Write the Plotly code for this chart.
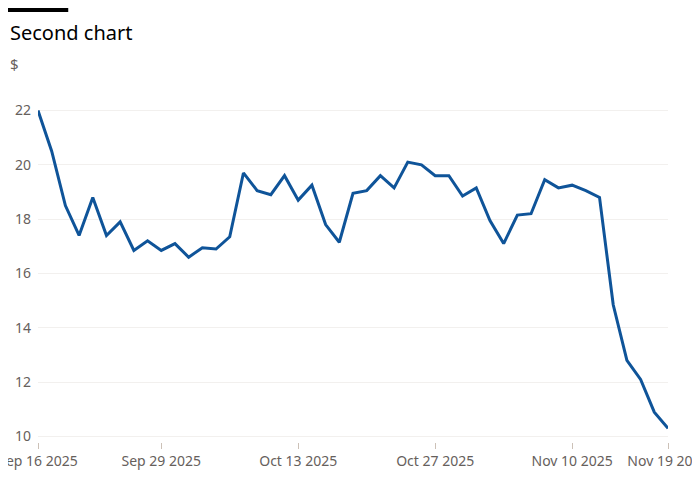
import plotly.graph_objects as go
import pandas as pd

dates = pd.bdate_range("2025-09-16", "2025-11-19").strftime("%Y-%m-%d").tolist()
prices = [22.0, 20.5, 18.5, 17.4, 18.8, 17.4, 17.9, 16.85, 17.2, 16.85,
          17.1, 16.6, 16.95, 16.9, 17.35, 19.7, 19.05, 18.9, 19.6, 18.7,
          19.25, 17.8, 17.15, 18.95, 19.05, 19.6, 19.15, 20.1, 20.0, 19.6,
          19.6, 18.85, 19.15, 17.95, 17.1, 18.15, 18.2, 19.45, 19.15, 19.25,
          19.05, 18.8, 14.85, 12.8, 12.1, 10.9, 10.3]
tick_dates = ["2025-09-16", "2025-09-29", "2025-10-13", "2025-10-27", "2025-11-10", "2025-11-19"]
tick_labels = ["Sep 16 2025", "Sep 29 2025", "Oct 13 2025", "Oct 27 2025", "Nov 10 2025", "Nov 19 2025"]
y_ticks = [10, 12, 14, 16, 18, 20, 22]

fig = go.Figure(go.Scatter(
    x=dates, y=prices, mode="lines",
    line=dict(color="#0f5499", width=3),
    hoverinfo="x+y"
))

fig.update_layout(
    width=700, height=500,
    paper_bgcolor="white", plot_bgcolor="white",
    font=dict(family="Noto Sans", color="#66605c", size=14),
    margin=dict(l=30, r=40, t=97, b=66),
    showlegend=False,
    shapes=[dict(type="rect", xref="paper", yref="paper", x0=-0.048, x1=0.048,
                 y0=1.276, y1=1.29, fillcolor="black", line_width=0)],
    annotations=[
        dict(text="Second chart", xref="paper", yref="paper", x=-0.048, y=1.214,
             xanchor="left", yanchor="middle", showarrow=False,
             font=dict(size=20, color="#000000")),
        dict(text="$", xref="paper", yref="paper", x=-0.048, y=1.122,
             xanchor="left", yanchor="middle", showarrow=False,
             font=dict(size=15, color="#66605c")),
    ],
)

fig.update_xaxes(type="category", tickvals=tick_dates, ticktext=tick_labels,
                 showgrid=False, ticks="outside", ticklen=6, tickcolor="#ccc1b7",
                 showline=False, range=[0, len(dates) - 1], tickfont=dict(size=14),
                 automargin=False)
fig.update_yaxes(range=[9.8, 22.2], tickvals=y_ticks, showgrid=True,
                 gridcolor="#f2f0ee", zeroline=False, ticklabelstandoff=6,
                 tickfont=dict(size=14), automargin=False)

fig.write_html("out.html")
